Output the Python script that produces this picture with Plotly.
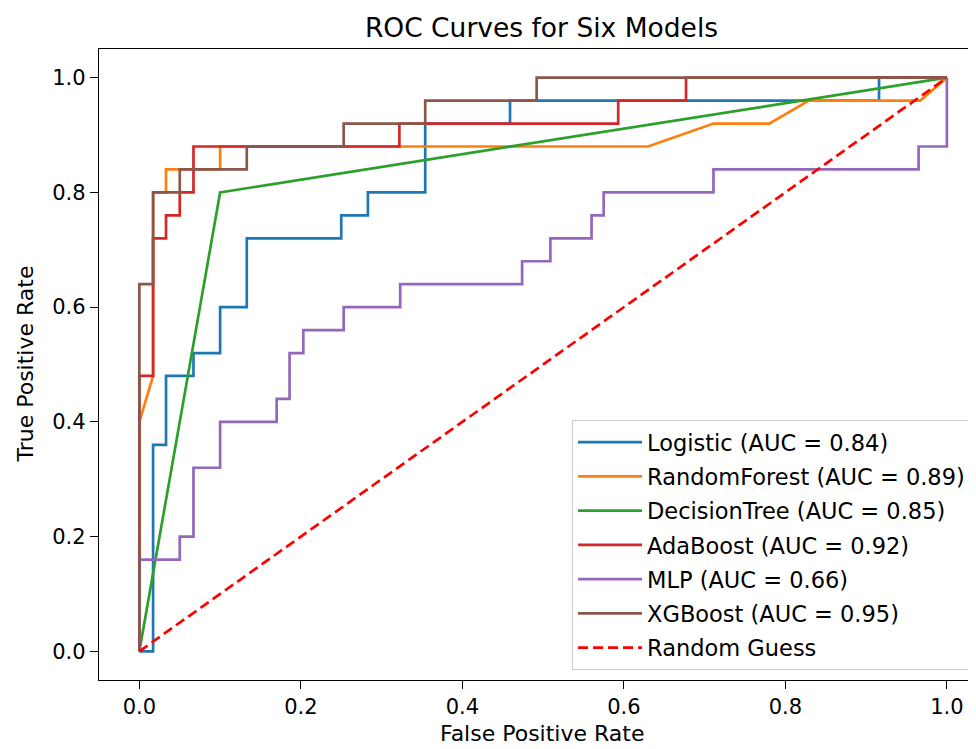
import plotly.graph_objects as go

# ---- data ----
model_names = ["Logistic", "RandomForest", "DecisionTree", "AdaBoost", "MLP", "XGBoost"]
auc_values = [0.84, 0.89, 0.85, 0.92, 0.66, 0.95]

logistic_fpr = [0, 0.017, 0.017, 0.033, 0.033, 0.067, 0.067, 0.100, 0.100, 0.133, 0.133, 0.250, 0.250, 0.283, 0.283, 0.354, 0.354, 0.459, 0.459, 0.916, 0.916, 1.0]
logistic_tpr = [0, 0.0, 0.36, 0.36, 0.48, 0.48, 0.52, 0.52, 0.60, 0.60, 0.72, 0.72, 0.76, 0.76, 0.80, 0.80, 0.92, 0.92, 0.96, 0.96, 1.0, 1.0]

rf_fpr = [0, 0, 0.017, 0.017, 0.033, 0.033, 0.100, 0.100, 0.630, 0.711, 0.780, 0.829, 0.967, 1.0]
rf_tpr = [0, 0.40, 0.48, 0.80, 0.80, 0.84, 0.84, 0.88, 0.88, 0.92, 0.92, 0.96, 0.96, 1.0]

dt_fpr = [0, 0.100, 1.0]
dt_tpr = [0, 0.80, 1.0]

ada_fpr = [0, 0, 0.017, 0.017, 0.033, 0.033, 0.050, 0.050, 0.067, 0.067, 0.322, 0.322, 0.593, 0.593, 0.677, 0.677, 1.0]
ada_tpr = [0, 0.48, 0.48, 0.72, 0.72, 0.76, 0.76, 0.80, 0.80, 0.88, 0.88, 0.92, 0.92, 0.96, 0.96, 1.0, 1.0]

mlp_fpr = [0, 0, 0.050, 0.050, 0.067, 0.067, 0.100, 0.100, 0.170, 0.170, 0.186, 0.186, 0.203, 0.203, 0.253, 0.253,
           0.323, 0.323, 0.474, 0.474, 0.509, 0.509, 0.560, 0.560, 0.575, 0.575, 0.711, 0.711, 0.965, 0.965, 1.0, 1.0]
mlp_tpr = [0, 0.16, 0.16, 0.20, 0.20, 0.32, 0.32, 0.40, 0.40, 0.44, 0.44, 0.52, 0.52, 0.56, 0.56, 0.60,
           0.60, 0.64, 0.64, 0.68, 0.68, 0.72, 0.72, 0.76, 0.76, 0.80, 0.80, 0.84, 0.84, 0.88, 0.88, 1.0]

xgb_fpr = [0, 0, 0.017, 0.017, 0.050, 0.050, 0.133, 0.133, 0.253, 0.253, 0.354, 0.354, 0.492, 0.492, 1.0]
xgb_tpr = [0, 0.64, 0.64, 0.80, 0.80, 0.84, 0.84, 0.88, 0.88, 0.92, 0.92, 0.96, 0.96, 1.0, 1.0]

guess_fpr = [0, 1]
guess_tpr = [0, 1]

tick_vals = [0.0, 0.2, 0.4, 0.6, 0.8, 1.0]
tick_text = ["0.0", "0.2", "0.4", "0.6", "0.8", "1.0"]

colors = ["#1f77b4", "#ff7f0e", "#2ca02c", "#d62728", "#9467bd", "#8c564b"]

curves = [
    (logistic_fpr, logistic_tpr),
    (rf_fpr, rf_tpr),
    (dt_fpr, dt_tpr),
    (ada_fpr, ada_tpr),
    (mlp_fpr, mlp_tpr),
    (xgb_fpr, xgb_tpr),
]

FONT = "DejaVu Sans"
fig = go.Figure()
for i, (name, auc, (fx, ty)) in enumerate(zip(model_names, auc_values, curves)):
    fig.add_trace(go.Scatter(
        x=fx, y=ty, mode="lines",
        name=f"{name} (AUC = {auc:.2f})",
        line=dict(color=colors[i], width=2.7),
        legendgroup=f"g{i}",
    ))
fig.add_trace(go.Scatter(
    x=guess_fpr, y=guess_tpr, mode="lines", name="Random Guess",
    line=dict(color="#ff0000", width=2.7, dash="10px,5px"),
    legendgroup="g6",
))

axis_common = dict(
    showgrid=False, zeroline=False, showline=True, linecolor="black", linewidth=1.3,
    ticks="outside", ticklen=8, tickwidth=1.3, tickcolor="black",
    tickvals=tick_vals, ticktext=tick_text,
    tickfont=dict(family=FONT, size=21, color="black"),
)

fig.update_layout(
    width=976, height=749,
    margin=dict(l=91, r=0, t=41, b=77),
    paper_bgcolor="white", plot_bgcolor="white",
    font=dict(family=FONT, color="black"),
    title=dict(text="ROC Curves for Six Models", x=0.5, xref="paper", xanchor="center",
               y=1 - 20 / 749, yref="container", yanchor="middle",
               font=dict(family=FONT, size=26.5, color="black")),
    xaxis=dict(range=[-0.05, 1.046], mirror=True, **axis_common),
    yaxis=dict(range=[-0.05, 1.05], mirror=False, **axis_common),
    showlegend=True,
    legend=dict(
        x=0.5345, y=0.412, xanchor="left", yanchor="top",
        font=dict(family=FONT, size=22.5, color="black"),
        bgcolor="rgba(255,255,255,0.8)", bordercolor="#cccccc", borderwidth=1,
        tracegroupgap=2, itemwidth=64,
    ),
)

fig.add_annotation(text="False Positive Rate", xref="paper", yref="paper",
                   x=0.501, y=-(725 - 672) / 631, xanchor="center", yanchor="middle",
                   showarrow=False, font=dict(family=FONT, size=22, color="black"))
fig.add_annotation(text="True Positive Rate", xref="paper", yref="paper",
                   x=-0.0836, y=0.5, xanchor="center", yanchor="middle", textangle=-90,
                   showarrow=False, font=dict(family=FONT, size=22, color="black"))

fig.write_html("out.html")
